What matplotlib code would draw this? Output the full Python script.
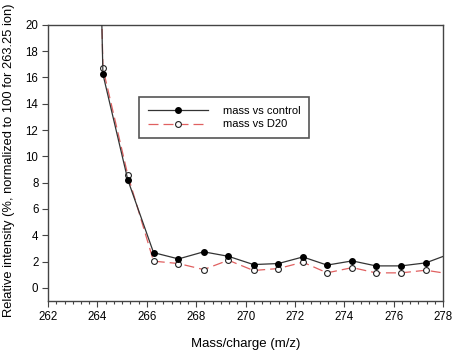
import numpy as np
import matplotlib
matplotlib.use('Agg')
from matplotlib import pyplot as plt
from matplotlib.ticker import MultipleLocator

plt.rcParams['font.family'] = ['Liberation Sans', 'DejaVu Sans']

# data (first point is the 263.25 reference ion, off scale)
mz = [263.25, 264.22, 265.23, 266.27, 267.28, 268.30, 269.30, 270.32, 271.33,
      272.32, 273.30, 274.32, 275.28, 276.30, 277.30, 278.30]
control = [100.0, 16.25, 8.2, 2.68, 2.2, 2.74, 2.4, 1.77, 1.85,
           2.35, 1.73, 2.05, 1.67, 1.67, 1.9, 2.6]
d2o = [100.0, 16.7, 8.56, 2.03, 1.85, 1.39, 2.1, 1.32, 1.47,
       1.95, 1.14, 1.54, 1.14, 1.14, 1.34, 1.05]

fig = plt.figure(figsize=(4.54, 3.5), dpi=100)
ax = fig.add_axes([0.106, 0.14, 0.870, 0.789])

ax.plot(mz, control, color='#333333', lw=0.9, marker='o', ms=4,
        mfc='black', mec='black', label='mass vs control', zorder=3)
ax.plot(mz, d2o, color='#e06060', lw=0.9, dashes=(8, 4), marker='o', ms=4.2,
        mfc='white', mec='#222222', mew=0.8, label='mass vs D20', zorder=2)

ax.set_xlim(262, 278)
ax.set_ylim(-1, 20)
ax.xaxis.set_major_locator(MultipleLocator(2))
ax.xaxis.set_minor_locator(MultipleLocator(1 / 3))
ax.set_yticks(np.arange(0, 21, 2))

for s in ax.spines.values():
    s.set_color('#444444')
    s.set_linewidth(1.0)
ax.tick_params(axis='both', which='major', direction='out', length=4,
               width=0.8, color='#444444', labelsize=8.3, pad=3)
ax.tick_params(axis='x', which='minor', direction='out', length=2,
               width=0.8, color='#444444')

ax.set_xlabel('Mass/charge (m/z)', fontsize=9.5, labelpad=11)
ax.set_ylabel('Relative intensity (%, normalized to 100 for 263.25 ion)',
              fontsize=9.3)
ax.yaxis.set_label_coords(-0.085, 0.51)

leg = ax.legend(loc='upper left', bbox_to_anchor=(0.231, 0.740),
                borderaxespad=0, fontsize=8, handlelength=5.4,
                handletextpad=1.3, borderpad=0.8, labelspacing=0.35,
                fancybox=False, framealpha=1, edgecolor='#555555')
leg.get_frame().set_linewidth(1.2)

fig.savefig('out.png', dpi=100)
